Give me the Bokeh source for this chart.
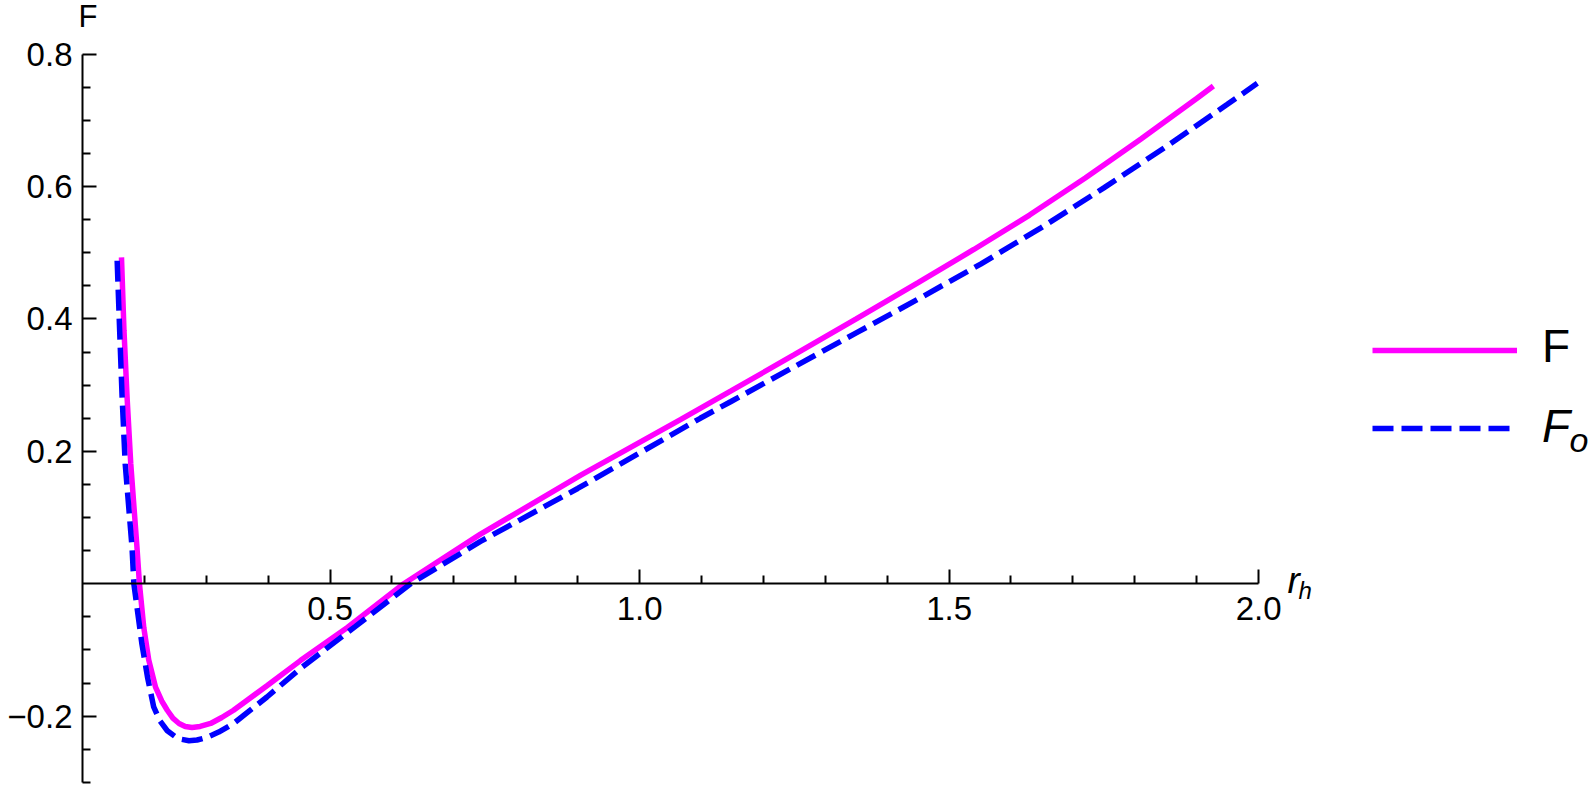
from bokeh.plotting import figure
from bokeh.models import Range1d, FixedTicker, Label, Legend, LegendItem
from bokeh.embed import file_html
from bokeh.resources import INLINE

# ---- data ----
r_F = [0.163, 0.167, 0.172, 0.178, 0.188, 0.192, 0.199, 0.207, 0.218, 0.228, 0.237,
       0.246, 0.256, 0.266, 0.277, 0.290, 0.307, 0.325, 0.344, 0.398, 0.452, 0.528,
       0.619, 0.743, 0.905, 1.066, 1.147, 1.25, 1.35, 1.45, 1.54, 1.63, 1.72,
       1.81, 1.90, 1.927]
F_vals = [0.493, 0.383, 0.282, 0.181, 0.055, 0.0, -0.066, -0.115, -0.156, -0.177, -0.191,
          -0.203, -0.211, -0.2155, -0.217, -0.2155, -0.211, -0.202, -0.191, -0.154, -0.116, -0.066,
          0.0, 0.075, 0.164, 0.248, 0.291, 0.346, 0.400, 0.455, 0.505, 0.557, 0.613,
          0.672, 0.733, 0.752]

r_Fo = [0.156, 0.160, 0.164, 0.169, 0.180, 0.183, 0.196, 0.205, 0.215, 0.225, 0.237,
        0.250, 0.260, 0.272, 0.285, 0.301, 0.320, 0.344, 0.398, 0.452, 0.540, 0.630,
        0.743, 0.900, 1.098, 1.147, 1.25, 1.35, 1.45, 1.551, 1.649, 1.75, 1.85,
        1.949, 1.998]
Fo_vals = [0.488, 0.383, 0.282, 0.181, 0.055, 0.0, -0.091, -0.141, -0.186, -0.207, -0.222,
           -0.231, -0.235, -0.237, -0.236, -0.232, -0.224, -0.211, -0.171, -0.128, -0.065, 0.0,
           0.064, 0.144, 0.250, 0.275, 0.328, 0.379, 0.430, 0.483, 0.538, 0.598, 0.660,
           0.724, 0.756]

x_major = [0.5, 1.0, 1.5, 2.0]
x_major_labels = ["0.5", "1.0", "1.5", "2.0"]
x_minor = [0.2, 0.3, 0.4, 0.6, 0.7, 0.8, 0.9, 1.1, 1.2, 1.3, 1.4, 1.6, 1.7, 1.8, 1.9]
y_major = [-0.2, 0.2, 0.4, 0.6, 0.8]
y_major_labels = ["\u22120.2", "0.2", "0.4", "0.6", "0.8"]
y_minor = [-0.3, -0.25, -0.15, -0.1, -0.05, 0.05, 0.1, 0.15, 0.25, 0.3, 0.35,
           0.45, 0.5, 0.55, 0.65, 0.7, 0.75]

FONT = "Liberation Sans"
W, H = 1594, 785

p = figure(width=W, height=H,
           x_range=Range1d(-0.03247, 2.5427), y_range=Range1d(-0.3047, 0.8811),
           output_backend="svg", toolbar_location=None,
           min_border_left=0, min_border_right=0,
           min_border_top=0, min_border_bottom=0)
p.grid.visible = False
p.outline_line_color = None
p.background_fill_color = "white"
p.border_fill_color = "white"

def style_axis(ax, standoff):
    ax.major_tick_in = 14
    ax.major_tick_out = 0
    ax.minor_tick_in = 8
    ax.minor_tick_out = 0
    ax.axis_line_width = 2
    ax.axis_line_color = "black"
    ax.major_tick_line_width = 2
    ax.minor_tick_line_width = 2
    ax.major_tick_line_color = "black"
    ax.minor_tick_line_color = "black"
    ax.major_label_text_font = FONT
    ax.major_label_text_font_size = "33px"
    ax.major_label_text_color = "black"
    ax.major_label_standoff = standoff

# x axis crossing at F = 0
xa = p.xaxis[0]
xa.fixed_location = 0
xa.bounds = (0.1, 2.0)
xa.ticker = FixedTicker(ticks=x_major, minor_ticks=x_minor)
xa.major_label_overrides = {t: s for t, s in zip(x_major, x_major_labels)}
style_axis(xa, 13)

# y axis at r_h = 0.1
ya = p.yaxis[0]
ya.fixed_location = 0.1
ya.bounds = (-0.3, 0.8)
ya.ticker = FixedTicker(ticks=y_major, minor_ticks=y_minor)
ya.major_label_overrides = {t: s for t, s in zip(y_major, y_major_labels)}
style_axis(ya, 10)

rF = p.line(r_F, F_vals, line_color="#FF00FF", line_width=5.5)
rFo = p.line(r_Fo, Fo_vals, line_color="#0000FF", line_width=5.5, line_dash="21 8")

def make_legend(renderer, vx, vy):
    leg = Legend(items=[LegendItem(label=" ", renderers=[renderer])],
                 location=(vx, vy), padding=0, margin=0,
                 glyph_width=145, glyph_height=20, label_width=0, label_standoff=0,
                 label_text_font_size="1px", border_line_color=None,
                 background_fill_alpha=0)
    p.add_layout(leg, "center")

make_legend(rF, 1372, 425)
make_legend(rFo, 1372, 347)

def add_text(x, y, text, size, style="normal"):
    p.add_layout(Label(x=x, y=y, text=text, text_font=FONT, text_font_size=size,
                       text_font_style=style, text_align="left",
                       text_baseline="middle", text_color="black"))

# axis labels
add_text(0.0937, 0.8570, "F", "31px")
add_text(2.0467, 0.0047, "r", "37px", style="italic")
add_text(2.0646, -0.0100, "h", "24px", style="italic")

# legend texts
add_text(2.4578, 0.3585, "F", "46px")
add_text(2.4578, 0.2391, "F", "46px", style="italic")
add_text(2.5023, 0.2177, "o", "34px", style="italic")

open("out.html", "w").write(file_html(p, INLINE))
